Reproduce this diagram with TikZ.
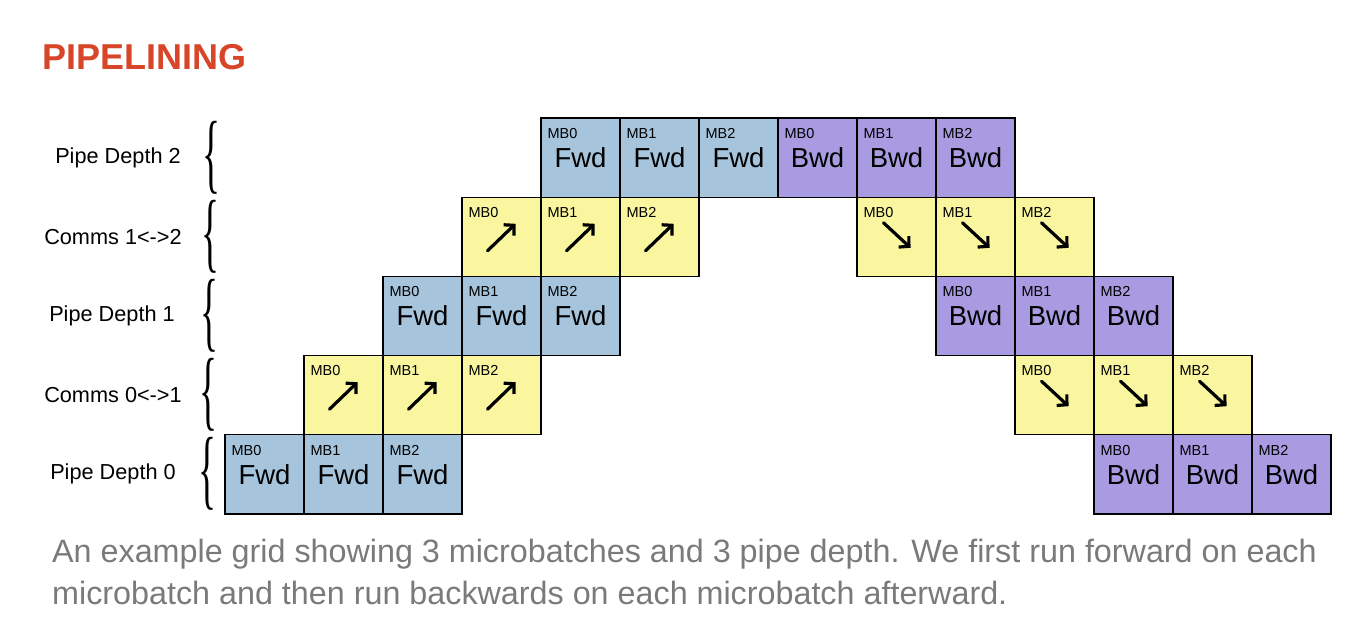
\documentclass[tikz,border=0pt]{standalone}
\usepackage{fontspec}
\setmainfont{Liberation Sans}
\newfontfamily\bracefont{Liberation Serif}
\usetikzlibrary{arrows.meta}
\definecolor{fwdblue}{HTML}{A6C4DC}
\definecolor{bwdpurple}{HTML}{A99BE2}
\definecolor{commyellow}{HTML}{FAF6A0}
\definecolor{titlered}{HTML}{D8462A}
\definecolor{capgray}{HTML}{7A7A7A}

\begin{document}
\begin{tikzpicture}[x=1bp,y=-1bp,
    cell/.style={draw=black,line width=1.3bp,minimum width=79bp,minimum height=79.2bp,
        inner sep=0pt,font=\fontsize{27.5bp}{30bp}\selectfont},
    fwd/.style={cell,fill=fwdblue},
    bwd/.style={cell,fill=bwdpurple},
    comm/.style={cell,fill=commyellow},
    mb/.style={anchor=base west,inner sep=0pt,font=\fontsize{14.5bp}{16bp}\selectfont},
    rowlabel/.style={font=\fontsize{21.7bp}{24bp}\selectfont},
    brc/.style={inner sep=0pt},
    arr/.style={line width=3.2bp,line cap=round,line join=round,
        -{Straight Barb[length=7bp,width=15bp]}},
    captext/.style={anchor=base west,inner sep=0pt,text=capgray,
        font=\fontsize{32.3bp}{38bp}\selectfont}]
\useasboundingbox (0,0) rectangle (1372,630);

\node[anchor=base west,inner sep=0pt,text=titlered,
    font=\fontsize{36bp}{40bp}\selectfont\bfseries] (title) at (42,70) {PIPELINING};

% row labels
\node[rowlabel] (lbl2) at (118,158) {Pipe Depth 2};
\node[rowlabel] (lbl12) at (113,237) {Comms 1<->2};
\node[rowlabel] (lbl1) at (112,316) {Pipe Depth 1};
\node[rowlabel] (lbl01) at (113,395) {Comms 0<->1};
\node[rowlabel] (lbl0) at (113,474) {Pipe Depth 0};

% braces
\node[brc] (brc2) at (211,158) {\resizebox*{18bp}{73bp}{\bracefont\{}};
\node[brc] (brc12) at (210,237) {\resizebox*{18bp}{73bp}{\bracefont\{}};
\node[brc] (brc1) at (209,316) {\resizebox*{18bp}{73bp}{\bracefont\{}};
\node[brc] (brc01) at (208,395) {\resizebox*{18bp}{73bp}{\bracefont\{}};
\node[brc] (brc0) at (207,474) {\resizebox*{18bp}{73bp}{\bracefont\{}};

% forward / backward cells
\foreach \r/\k in {0/4,2/2,4/0} {
    \foreach \i in {0,1,2} {
        \node[fwd] (f\r\i) at ({225+79*(\k+\i+0.5)},{118+79.2*(\r+0.5)}) {Fwd};
        \node[mb] (mf\r\i) at ([shift={(7,21)}]f\r\i.north west) {MB\i};
        \node[bwd] (b\r\i) at ({225+79*(11-\k+\i+0.5)},{118+79.2*(\r+0.5)}) {Bwd};
        \node[mb] (mb\r\i) at ([shift={(7,21)}]b\r\i.north west) {MB\i};
    }
}

% comms cells
\foreach \r/\k in {1/3,3/1} {
    \foreach \i in {0,1,2} {
        \node[comm] (u\r\i) at ({225+79*(\k+\i+0.5)},{118+79.2*(\r+0.5)}) {};
        \node[mb] (mu\r\i) at ([shift={(7,21)}]u\r\i.north west) {MB\i};
        \draw[arr] ([shift={(-14,14)}]u\r\i.center) -- ([shift={(14,-13)}]u\r\i.center);
        \node[comm] (d\r\i) at ({225+79*(11-\k+\i+0.5)},{118+79.2*(\r+0.5)}) {};
        \node[mb] (md\r\i) at ([shift={(7,21)}]d\r\i.north west) {MB\i};
        \draw[arr] ([shift={(-13,-14)}]d\r\i.center) -- ([shift={(14,11)}]d\r\i.center);
    }
}

% caption
\node[captext] (cap1) at (52,562)
    {An example grid showing 3 microbatches and 3 pipe depth. We first run forward on each};
\node[captext] (cap2) at (52,604)
    {microbatch and then run backwards on each microbatch afterward.};
\end{tikzpicture}
\end{document}
